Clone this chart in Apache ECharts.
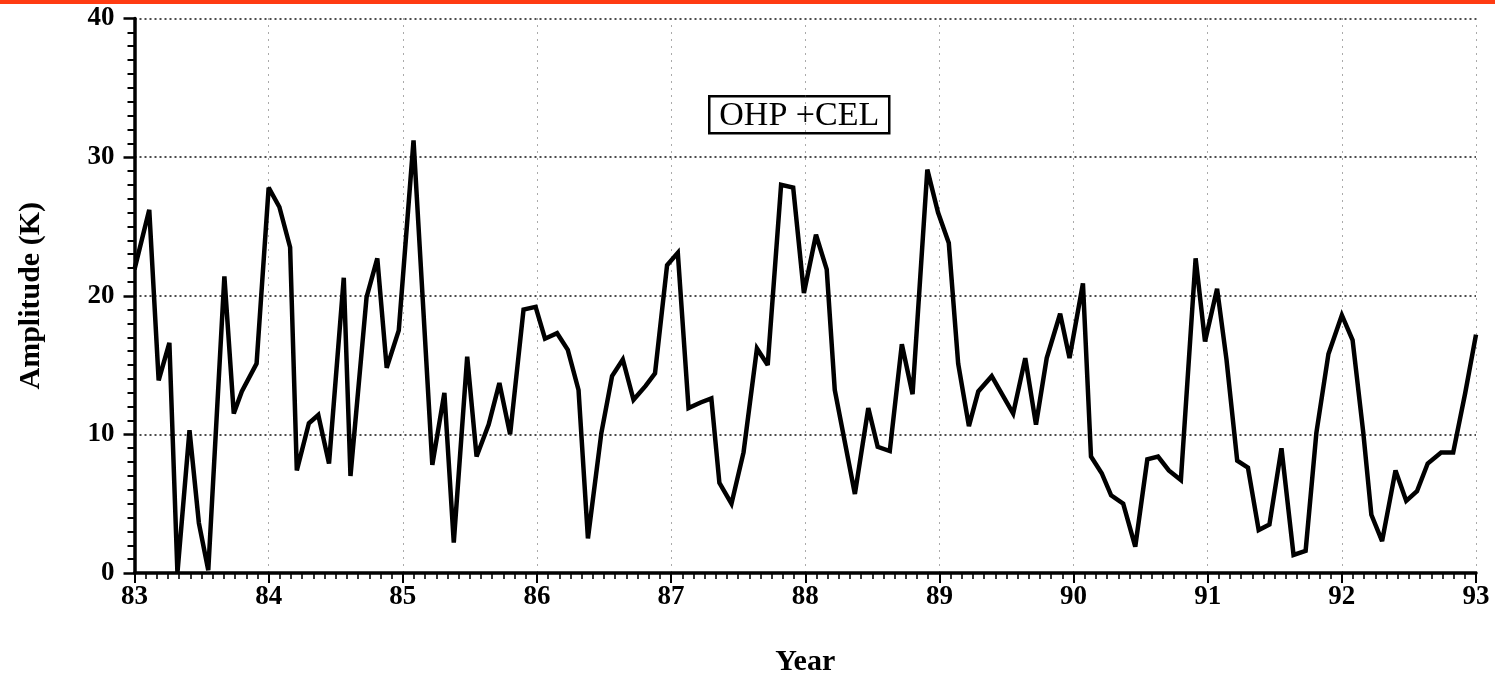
<!DOCTYPE html>
<html>
<head>
<meta charset="utf-8">
<script src="https://cdn.jsdelivr.net/npm/echarts@6/dist/echarts.min.js"></script>
<style>
html,body{margin:0;padding:0;background:#fff;}
#chart{width:1495px;height:682px;}
</style>
</head>
<body>
<div id="chart"></div>
<script>
const years = [
  83.00, 83.11, 83.18, 83.26, 83.32, 83.41, 83.48, 83.55, 83.67, 83.74,
  83.80, 83.91, 84.00, 84.08, 84.16, 84.21, 84.30, 84.37, 84.45, 84.56,
  84.61, 84.73, 84.81, 84.88, 84.97, 85.08, 85.22, 85.31, 85.38, 85.48,
  85.55, 85.64, 85.72, 85.80, 85.90, 85.99, 86.06, 86.15, 86.23, 86.31,
  86.38, 86.48, 86.56, 86.64, 86.72, 86.81, 86.88, 86.97, 87.05, 87.13,
  87.22, 87.30, 87.36, 87.45, 87.54, 87.64, 87.72, 87.82, 87.91, 87.99,
  88.08, 88.16, 88.22, 88.37, 88.47, 88.54, 88.63, 88.72, 88.80, 88.91,
  88.99, 89.07, 89.14, 89.22, 89.29, 89.39, 89.55, 89.64, 89.72, 89.80,
  89.90, 89.97, 90.07, 90.13, 90.21, 90.28, 90.37, 90.46, 90.55, 90.63,
  90.71, 90.80, 90.91, 90.98, 91.07, 91.14, 91.22, 91.30, 91.38, 91.46,
  91.55, 91.64, 91.73, 91.81, 91.90, 92.00, 92.08, 92.16, 92.22, 92.30,
  92.40, 92.48, 92.56, 92.64, 92.74, 92.83, 92.92, 93.00
];
// Amplitude (K)
const amplitude = [
  21.9, 26.2, 13.9, 16.6, 0.0, 10.3, 3.6, 0.2, 21.4, 11.5,
  13.1, 15.1, 27.8, 26.4, 23.5, 7.4, 10.8, 11.4, 7.9, 21.3,
  7.0, 19.9, 22.7, 14.8, 17.5, 31.2, 7.8, 13.0, 2.2, 15.6,
  8.4, 10.7, 13.7, 10.0, 19.0, 19.2, 16.9, 17.3, 16.1, 13.2,
  2.5, 10.1, 14.2, 15.4, 12.5, 13.5, 14.4, 22.2, 23.1, 11.9,
  12.3, 12.6, 6.5, 5.0, 8.7, 16.2, 15.0, 28.0, 27.8, 20.2,
  24.4, 21.9, 13.2, 5.7, 11.9, 9.1, 8.8, 16.5, 12.9, 29.1,
  26.0, 23.8, 15.1, 10.6, 13.1, 14.2, 11.5, 15.5, 10.7, 15.5,
  18.7, 15.5, 20.9, 8.4, 7.2, 5.6, 5.0, 1.9, 8.2, 8.4,
  7.4, 6.7, 22.7, 16.7, 20.5, 15.4, 8.1, 7.6, 3.1, 3.5,
  9.0, 1.3, 1.6, 10.1, 15.8, 18.6, 16.8, 10.1, 4.2, 2.3,
  7.4, 5.2, 5.9, 7.9, 8.7, 8.7, 13.0, 17.2
];
const xTickLabels = ['83','84','85','86','87','88','89','90','91','92','93'];
const yTickLabels = ['0','10','20','30','40'];
const labelText = 'OHP +CEL';
const xName = 'Year';
const yName = 'Amplitude (K)';

const serif = '"Liberation Serif", "DejaVu Serif", serif';
const chart = echarts.init(document.getElementById('chart'), null, {renderer: 'canvas'});
const seriesData = years.map((y, i) => [y, amplitude[i]]);

chart.setOption({
  backgroundColor: '#fff',
  animation: false,
  grid: {left: 134.5, right: 19, top: 18.5, bottom: 108.5, containLabel: false},
  xAxis: {
    type: 'value', min: 83, max: 93, interval: 1,
    name: xName, nameLocation: 'middle', nameGap: 74,
    nameTextStyle: {fontFamily: serif, fontSize: 30, fontWeight: 'bold', color: '#000'},
    axisLine: {show: true, lineStyle: {color: '#000', width: 3.5}},
    axisTick: {show: true, length: 10, lineStyle: {color: '#000', width: 2}},
    minorTick: {show: true, splitNumber: 12, length: 6, lineStyle: {color: '#000', width: 1.6}},
    axisLabel: {
      fontFamily: serif, fontSize: 27, fontWeight: 'bold', color: '#000', margin: 11,
      formatter: v => xTickLabels[Math.round(v - 83)]
    },
    splitLine: {show: true, lineStyle: {type: [1, 6], color: '#555', width: 1}},
    minorSplitLine: {show: false}
  },
  yAxis: {
    type: 'value', min: 0, max: 40, interval: 10,
    name: yName, nameLocation: 'middle', nameGap: 88, nameRotate: 90,
    nameTextStyle: {fontFamily: serif, fontSize: 30, fontWeight: 'bold', color: '#000'},
    axisLine: {show: true, lineStyle: {color: '#000', width: 3.5}},
    axisTick: {show: true, length: 11, lineStyle: {color: '#000', width: 2.5}},
    minorTick: {show: true, splitNumber: 10, length: 7, lineStyle: {color: '#000', width: 2}},
    axisLabel: {
      fontFamily: serif, fontSize: 27, fontWeight: 'bold', color: '#000', margin: 20,
      formatter: v => yTickLabels[Math.round(v / 10)]
    },
    splitLine: {show: true, lineStyle: {type: [2, 3], color: '#111', width: 1.6}}
  },
  series: [{
    type: 'line',
    data: seriesData,
    showSymbol: false,
    symbol: 'none',
    lineStyle: {color: '#000', width: 4.5, join: 'miter', miterLimit: 3},
    z: 5
  }],
  graphic: [
    {type: 'rect', left: 0, top: 0, shape: {width: 1495, height: 4}, style: {fill: '#ff3b12'}, z: 100},
    {
      type: 'group', left: 708, top: 95, z: 50,
      children: [
        {type: 'rect', shape: {x: 0, y: 0, width: 180, height: 37}, style: {fill: '#fff', stroke: '#000', lineWidth: 2.5}},
        {type: 'text', x: 90, y: 20, style: {text: labelText, font: '34px ' + serif, fill: '#000', textAlign: 'center', textVerticalAlign: 'middle'}}
      ]
    }
  ]
});
</script>
</body>
</html>
